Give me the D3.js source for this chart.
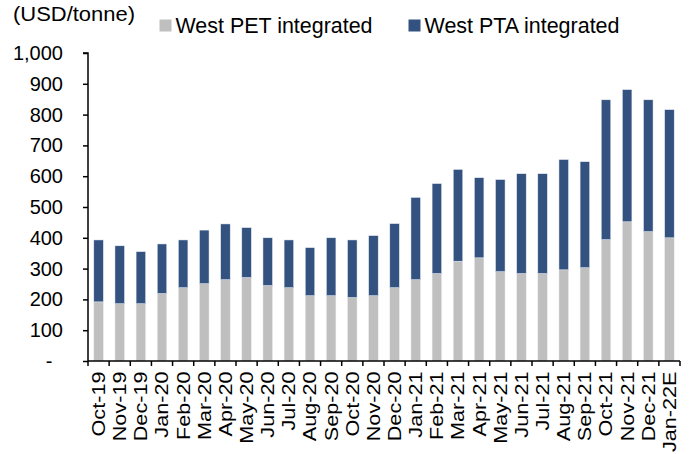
<!DOCTYPE html>
<html><head><meta charset="utf-8">
<script src="https://cdn.jsdelivr.net/npm/d3@7/dist/d3.min.js"></script>
<style>body{margin:0;background:#fff}svg{display:block}text{font-family:"Liberation Sans",Arial,sans-serif;fill:#000}</style>
</head><body><svg id="c" width="692" height="454"></svg>
<script>
const categories = ["Oct-19","Nov-19","Dec-19","Jan-20","Feb-20","Mar-20","Apr-20","May-20","Jun-20","Jul-20","Aug-20","Sep-20","Oct-20","Nov-20","Dec-20","Jan-21","Feb-21","Mar-21","Apr-21","May-21","Jun-21","Jul-21","Aug-21","Sep-21","Oct-21","Nov-21","Dec-21","Jan-22E"];
const petIntegrated = [192,186,186,219,238,251,264,271,245,238,212,212,206,212,238,264,284,324,335,290,284,284,296,303,394,452,420,400];
const totalIntegrated = [393,374,355,380,393,425,445,433,400,393,368,400,393,407,446,531,576,622,595,589,608,608,654,647,848,881,848,816];
const ptaIntegrated = totalIntegrated.map((t,i)=>t-petIntegrated[i]);
const seriesNames = ["West PET integrated","West PTA integrated"];
const yTicks = [0,100,200,300,400,500,600,700,800,900,1000];
const colors = ["#BFBFBF","#335280"];

const svg = d3.select("#c");
const x0=88, x1=680, yb=361, yt=53;
const x = d3.scaleBand().domain(categories).range([x0,x1]).paddingInner(0.55).paddingOuter(0.275);
const xt = d3.scaleBand().domain(categories).range([x0,x1]);
const y = d3.scaleLinear().domain([0,1000]).range([yb,yt]);

const stack = d3.stack().keys([0,1]).value((d,k)=>k===0?d.pet:d.pta);
const rows = categories.map((c,i)=>({c,pet:petIntegrated[i],pta:ptaIntegrated[i]}));
const layers = stack(rows);
layers.forEach((layer,k)=>{
  svg.append("g").selectAll("rect").data(layer).join("rect")
    .attr("x",d=>x(d.data.c)).attr("width",x.bandwidth())
    .attr("y",d=>y(d[1])).attr("height",d=>y(d[0])-y(d[1]))
    .attr("fill",colors[k]).attr("stroke","#e8ecf2").attr("stroke-width",0.5);
});

// y axis
const ya = svg.append("g").attr("transform",`translate(${x0},0)`)
  .call(d3.axisLeft(y).tickValues(yTicks).tickSize(5).tickPadding(20).tickFormat(d=>d===0?"-":d3.format(",")(d)));
ya.select(".domain").attr("d",`M-5,${yt}H0V${yb}`).attr("stroke","#000").attr("stroke-width",1.5);
ya.selectAll(".tick line").attr("stroke","#000").attr("stroke-width",1.5);
ya.selectAll(".tick text").style("font-size","20px").attr("font-family","Liberation Sans, Arial, sans-serif")
  .filter(d=>d===0).attr("text-anchor","middle").attr("x",-39);

// x axis
const xa = svg.append("g").attr("transform",`translate(0,${yb})`)
  .call(d3.axisBottom(xt).tickSize(0).tickFormat(d=>d));
xa.select(".domain").attr("d",`M${x0},0H${x1}`).attr("stroke","#000").attr("stroke-width",1.5);
xa.selectAll(".tick text").style("font-size","18.5px").attr("font-family","Liberation Sans, Arial, sans-serif")
  .attr("transform","rotate(-90) scale(1.17,1)").attr("text-anchor","end").attr("x",-9).attr("y",0).attr("dy","0.35em");
const tickPos = categories.map(c=>xt(c)).concat([x1]);
svg.append("g").selectAll("line").data(tickPos).join("line")
  .attr("x1",d=>d).attr("x2",d=>d).attr("y1",yb).attr("y2",yb+5).attr("stroke","#000").attr("stroke-width",1.5);

// labels
svg.append("text").attr("x",13).attr("y",21).style("font-size","20px")
  .attr("textLength",122).attr("lengthAdjust","spacingAndGlyphs").text("(USD/tonne)");
const lg = svg.append("g");
const lx=[159.5,408.5], lw=[197,195];
seriesNames.forEach((n,i)=>{
  lg.append("rect").attr("x",lx[i]).attr("y",19.5).attr("width",12).attr("height",12).attr("fill",colors[i]);
  lg.append("text").attr("x",lx[i]+16).attr("y",33).style("font-size","21.5px")
    .attr("textLength",lw[i]).attr("lengthAdjust","spacingAndGlyphs").text(n);
});
</script></body></html>
